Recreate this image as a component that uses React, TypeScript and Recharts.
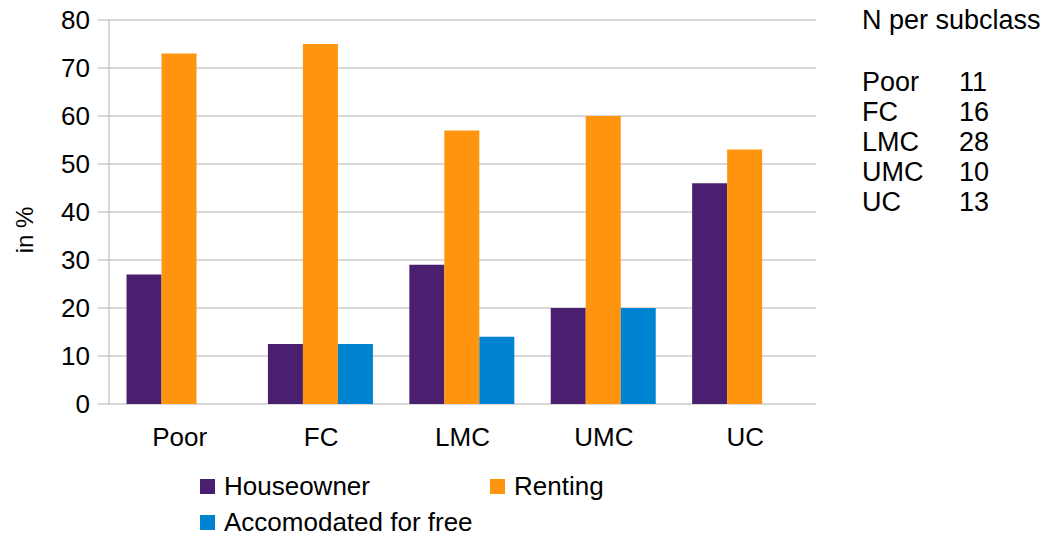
import { Bar, BarChart, CartesianGrid, Legend, XAxis, YAxis } from "recharts";

const classes = ["Poor", "FC", "LMC", "UMC", "UC"];
const houseowner = [27, 12.5, 29, 20, 46];
const renting = [73, 75, 57, 60, 53];
const accomodated = [0, 12.5, 14, 20, 0];
const nPerClass = [11, 16, 28, 10, 13];
const yTicks = [0, 10, 20, 30, 40, 50, 60, 70, 80];
const boundaryTicks = [0, 1, 2, 3, 4, 5];

const series = [
  { key: "houseowner", name: "Houseowner", color: "#4b1f6f" },
  { key: "renting", name: "Renting", color: "#ff950e" },
  { key: "accomodated", name: "Accomodated for free", color: "#0084d1" }
];

const FONT = "'Liberation Sans', Arial, sans-serif";
const GRID = "#b3b3b3";

function ChartLegend() {
  return (
    <div
      style={{
        display: "grid",
        gridTemplateColumns: "290px 290px",
        rowGap: 10,
        fontFamily: FONT,
        fontSize: 26,
        color: "#000"
      }}
    >
      {series.map((s) => (
        <div key={s.key} style={{ display: "flex", alignItems: "center", height: 26 }}>
          <span style={{ width: 15, height: 15, background: s.color, marginRight: 9, display: "inline-block" }} />
          <span>{s.name}</span>
        </div>
      ))}
    </div>
  );
}

export default function App() {
  const data = classes.map((cls, i) => ({
    cls,
    houseowner: houseowner[i],
    renting: renting[i],
    accomodated: accomodated[i]
  }));

  return (
    <div style={{ position: "absolute", left: 0, top: 0, width: 1051, height: 538, background: "#fff" }}>
      <BarChart
        width={1051}
        height={538}
        data={data}
        margin={{ top: 20, right: 235, bottom: 0, left: 0 }}
        barCategoryGap="12.4%"
        barGap={0}
      >
        <CartesianGrid vertical={false} stroke={GRID} strokeWidth={1.2} />
        <XAxis
          xAxisId="bounds"
          type="number"
          domain={[0, 5]}
          ticks={boundaryTicks}
          tickSize={11}
          tickFormatter={() => ""}
          stroke={GRID}
          height={0}
        />
        <XAxis
          xAxisId="cls"
          dataKey="cls"
          tickLine={false}
          axisLine={false}
          tickSize={0}
          tickMargin={24}
          height={134}
          tick={{ fill: "#000", fontSize: 26, fontFamily: FONT }}
        />
        <YAxis
          domain={[0, 80]}
          ticks={yTicks}
          width={109}
          tickSize={11}
          tickMargin={8}
          stroke={GRID}
          tick={{ fill: "#000", fontSize: 26, fontFamily: FONT }}
          label={{
            content: ({ viewBox }: any) => {
              const cx = viewBox.x + 24;
              const cy = viewBox.y + viewBox.height / 2 + 18;
              return (
                <text
                  x={cx}
                  y={cy}
                  transform={`rotate(-90, ${cx}, ${cy})`}
                  textAnchor="middle"
                  dominantBaseline="central"
                  fontSize={24}
                  fontFamily={FONT}
                  fill="#000"
                >
                  in %
                </text>
              );
            }
          }}
        />
        <YAxis yAxisId="right" orientation="right" width={0} tick={false} tickLine={false} stroke={GRID} domain={[0, 80]} />
        {series.map((s) => (
          <Bar key={s.key} xAxisId="cls" dataKey={s.key} name={s.name} fill={s.color} isAnimationActive={false} />
        ))}
        <Legend
          layout="horizontal"
          verticalAlign="middle"
          align="center"
          content={() => <ChartLegend />}
          wrapperStyle={{ left: 200, top: 473, width: 600, height: 70 }}
        />
      </BarChart>
      <div
        style={{
          position: "absolute",
          left: 862,
          top: 5,
          fontFamily: FONT,
          fontSize: 27,
          lineHeight: "30px",
          color: "#000"
        }}
      >
        <div style={{ marginBottom: 32 }}>N per subclass</div>
        {classes.map((cls, i) => (
          <div key={cls} style={{ display: "flex" }}>
            <span style={{ width: 97 }}>{cls}</span>
            <span>{nPerClass[i]}</span>
          </div>
        ))}
      </div>
    </div>
  );
}
